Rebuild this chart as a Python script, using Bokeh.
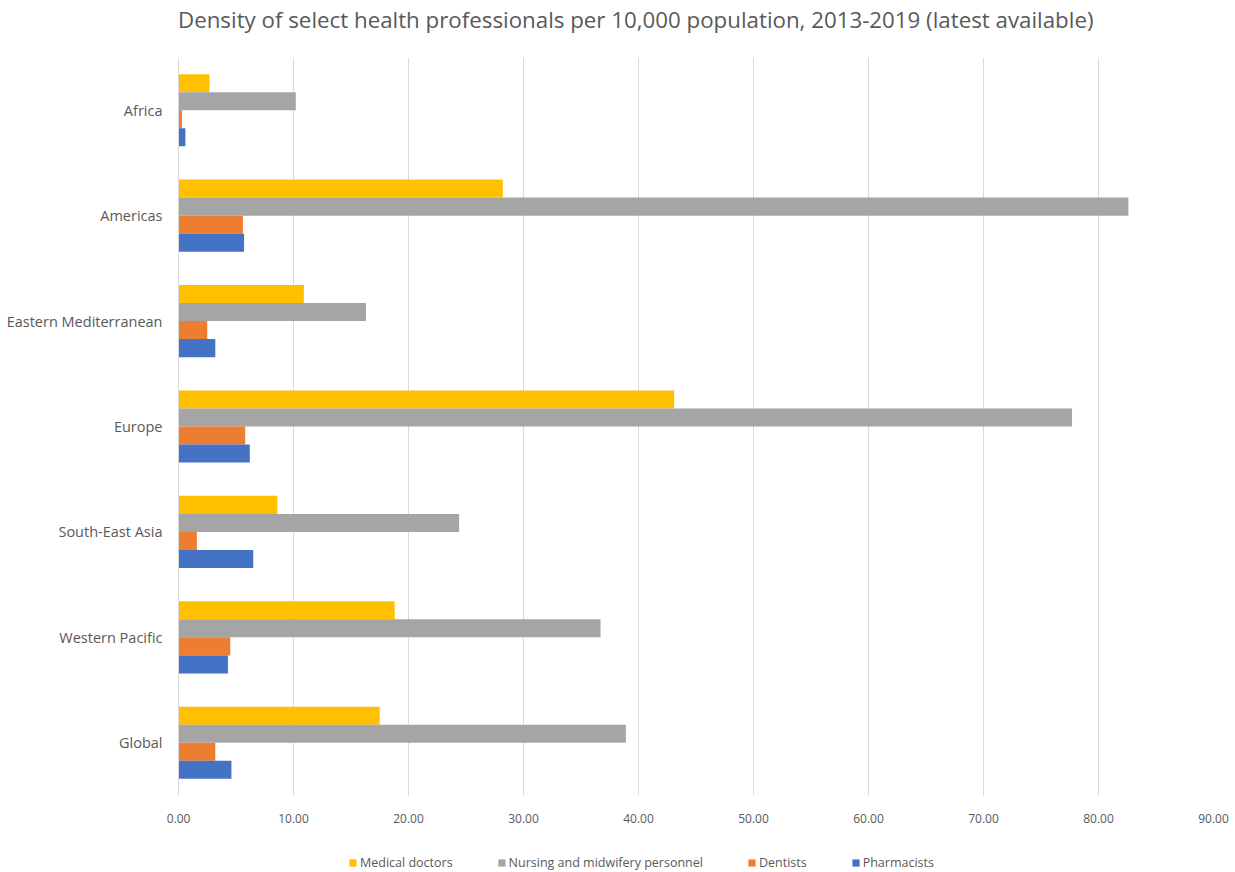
from bokeh.plotting import figure
from bokeh.layouts import column
from bokeh.models import Range1d, FactorRange, Legend, LegendItem, NumeralTickFormatter, ColumnDataSource, FixedTicker, Div
from bokeh.transform import dodge
from bokeh.embed import file_html
from bokeh.resources import INLINE

regions = ["Africa", "Americas", "Eastern Mediterranean", "Europe",
           "South-East Asia", "Western Pacific", "Global"]
medical_doctors = [2.7, 28.2, 10.9, 43.1, 8.6, 18.8, 17.5]
nursing_midwifery = [10.2, 82.6, 16.3, 77.7, 24.4, 36.7, 38.9]
dentists = [0.3, 5.6, 2.5, 5.8, 1.6, 4.5, 3.2]
pharmacists = [0.6, 5.7, 3.2, 6.2, 6.5, 4.3, 4.6]
series_names = ["Medical doctors", "Nursing and midwifery personnel", "Dentists", "Pharmacists"]
x_ticks = [0, 10, 20, 30, 40, 50, 60, 70, 80, 90]
title_text = "Density of select health professionals per 10,000 population, 2013-2019 (latest available)"

colors = ["#FFC000", "#A5A5A5", "#ED7D31", "#4472C4"]
TXT = "#595959"
FONT = "Open Sans"

src = ColumnDataSource(dict(region=regions, doc=medical_doctors, nur=nursing_midwifery,
                            den=dentists, pha=pharmacists))
cols = ["doc", "nur", "den", "pha"]

W = 1235
TITLE_H = 57
LEG_H = 30
H = 872 - LEG_H - TITLE_H
L, R = 178, 22
B = 872 - LEG_H - 795

title = Div(text=title_text, width=W, height=TITLE_H, margin=0,
            styles={"font-family": FONT, "font-size": "22.3px", "color": TXT,
                    "line-height": "30px", "padding-left": f"{L}px", "padding-top": "5px",
                    "box-sizing": "border-box", "white-space": "nowrap"})

p = figure(width=W, height=H, output_backend="svg", toolbar_location=None,
           y_range=FactorRange(factors=list(reversed(regions)), range_padding=0),
           x_range=Range1d(0, 90),
           min_border_left=L, min_border_right=R, min_border_top=0, min_border_bottom=B)
p.outline_line_color = None

bh = 0.171
offs = [1.5 * bh, 0.5 * bh, -0.5 * bh, -1.5 * bh]
for c, o, col in zip(cols, offs, colors):
    p.hbar(y=dodge("region", o, range=p.y_range), right=c, left=0, height=bh,
           source=src, fill_color=col, line_color=None)

# x axis
xa = p.xaxis[0]
xa.ticker = FixedTicker(ticks=x_ticks)
xa.formatter = NumeralTickFormatter(format="0.00")
xa.axis_line_color = None
xa.major_tick_line_color = None
xa.minor_tick_line_color = None
xa.major_label_text_font = FONT
xa.major_label_text_font_size = "12px"
xa.major_label_text_color = TXT
xa.major_label_standoff = 12

ya = p.yaxis[0]
ya.axis_line_color = "#D9D9D9"
ya.major_tick_line_color = None
ya.minor_tick_line_color = None
ya.major_label_text_font = FONT
ya.major_label_text_font_size = "14.5px"
ya.major_label_text_color = TXT
ya.major_label_standoff = 10

p.xgrid.grid_line_color = "#D9D9D9"
p.xgrid.ticker = FixedTicker(ticks=x_ticks)
p.ygrid.grid_line_color = None

# legend strip: same data series, renderers hidden so only the legend shows
lg = figure(width=W, height=LEG_H, output_backend="svg", toolbar_location=None,
            x_axis_type=None, y_axis_type=None, x_range=Range1d(100, 101), y_range=Range1d(0, 1),
            min_border_left=L, min_border_right=R, min_border_top=0, min_border_bottom=0)
lg.outline_line_color = None
lg.xgrid.visible = False
lg.ygrid.visible = False
leg_r = []
for c, col in zip(cols, colors):
    r = lg.hbar(y=5, right=c, left=0, height=0.1, source=src,
                fill_color=col, line_color=None)
    r.visible = False
    leg_r.append(r)
legend = Legend(items=[LegendItem(label=n, renderers=[r]) for n, r in zip(series_names, leg_r)],
                orientation="horizontal", location=(170, 1),
                padding=0, margin=0, spacing=44, label_standoff=3,
                glyph_width=9, glyph_height=9, label_height=18,
                label_text_font=FONT, label_text_font_size="12.5px", label_text_color=TXT,
                inactive_fill_alpha=0,
                border_line_color=None, background_fill_alpha=0)
lg.add_layout(legend, "center")

layout = column(title, p, lg, spacing=0)
open("out.html", "w").write(file_html(layout, INLINE))
